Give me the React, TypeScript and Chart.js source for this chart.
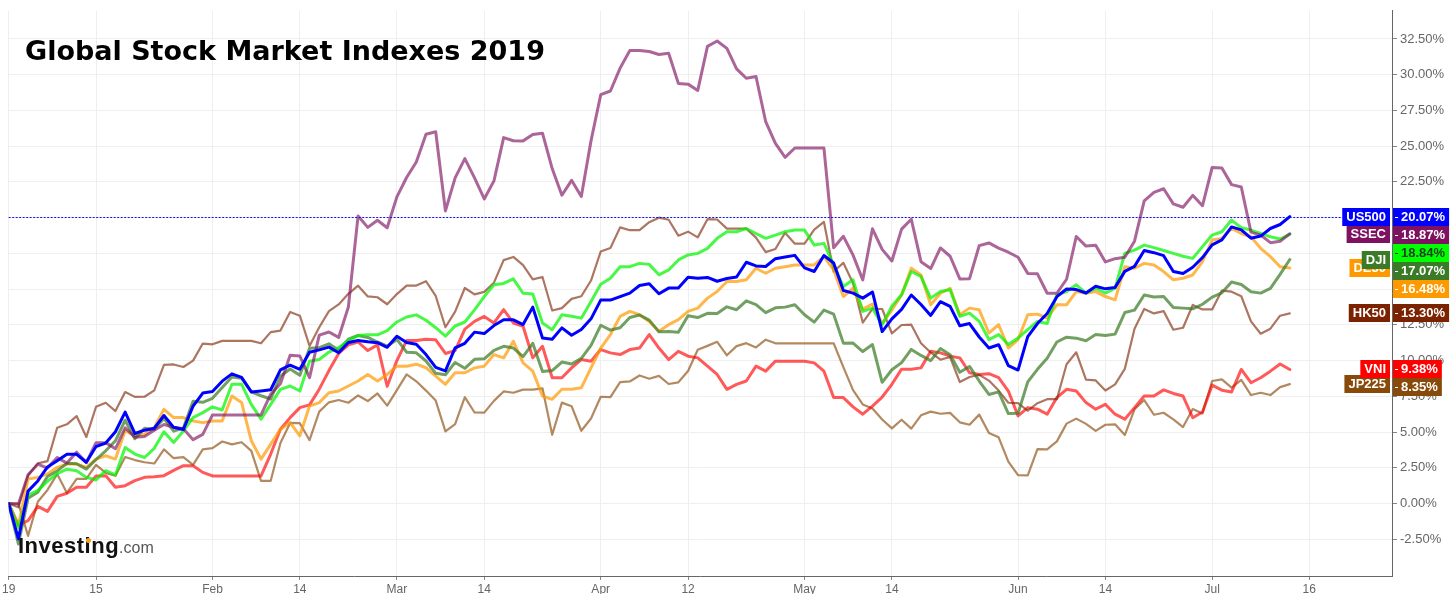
import React, { useEffect, useRef } from 'react';
import { Chart, registerables } from 'chart.js';

Chart.register(...registerables);

// x positions of the axis ticks (trading-day index) and their labels
const tickIndex = [0, 9, 21, 30, 40, 49, 61, 70, 82, 91, 104, 113, 124, 134];
const tickLabels = ['19', '15', 'Feb', '14', 'Mar', '14', 'Apr', '12', 'May', '14', 'Jun', '14', 'Jul', '16'];
const yTicks = [-2.5, 0, 2.5, 5, 7.5, 10, 12.5, 15, 17.5, 20, 22.5, 25, 27.5, 30, 32.5];

// % change since start of 2019, one value per US trading day (Jan 2 .. Jul 12)
const us500 = [
  0, -2.48, 0.87, 1.58, 2.56, 2.99, 3.45, 3.44, 2.89, 3.99,
  4.23, 5.02, 6.40, 4.90, 5.13, 5.27, 6.16, 5.33, 5.18, 6.81,
  7.73, 7.83, 8.56, 9.07, 8.83, 7.81, 7.88, 7.96, 9.35, 9.68,
  9.39, 10.58, 10.75, 10.94, 10.55, 11.26, 11.40, 11.31, 11.25, 10.93,
  11.70, 11.27, 11.14, 10.42, 9.52, 9.28, 10.89, 11.21, 11.99, 11.89,
  12.45, 12.86, 12.85, 12.52, 13.74, 11.58, 11.49, 12.29, 11.77, 12.17,
  12.92, 14.23, 14.23, 14.48, 14.72, 15.25, 15.37, 14.67, 15.07, 15.07,
  15.83, 15.76, 15.82, 15.55, 15.74, 15.85, 16.88, 16.62, 16.58, 17.13,
  17.25, 17.36, 16.48, 16.23, 17.35, 16.83, 14.90, 14.72, 14.37, 14.80,
  12.03, 12.92, 13.58, 14.59, 13.92, 13.16, 14.12, 13.79, 12.44, 12.59,
  11.65, 10.88, 11.11, 9.64, 9.34, 11.68, 12.59, 13.29, 14.47, 15.01,
  14.97, 14.73, 15.20, 15.02, 15.12, 16.24, 16.59, 17.70, 17.55, 17.34,
  16.23, 16.09, 16.53, 17.20, 18.10, 18.45, 19.35, 19.14, 18.56, 18.71,
  19.24, 19.52, 20.07,
];

const ssec = [
  0, -0.04, 2.01, 2.75, 2.48, 3.21, 2.83, 3.59, 2.86, 4.26,
  4.26, 3.83, 5.30, 4.64, 4.69, 5.13, 5.53, 5.34, 5.23, 4.47,
  4.84, 6.20, 6.20, 6.20, 6.20, 6.20, 6.20, 7.65, 8.38, 10.38,
  10.32, 8.81, 11.78, 12.00, 11.62, 13.75, 20.12, 19.32, 19.82, 19.29,
  21.45, 22.81, 23.89, 25.83, 26.01, 20.47, 22.78, 24.13, 22.78, 21.31,
  22.57, 25.60, 25.38, 25.37, 25.81, 25.91, 23.43, 21.57, 22.61, 21.48,
  25.37, 28.60, 28.86, 30.46, 31.69, 31.69, 31.62, 31.41, 31.50, 29.39,
  29.34, 28.90, 31.98, 32.36, 31.84, 30.41, 29.75, 29.87, 26.71, 25.19,
  24.22, 24.87, 24.87, 24.87, 24.87, 17.89, 18.70, 17.38, 15.64, 19.22,
  17.78, 16.97, 19.20, 19.89, 16.92, 16.44, 17.88, 17.30, 15.71, 15.73,
  18.04, 18.23, 17.87, 17.58, 17.23, 16.10, 16.07, 14.71, 14.71, 15.69,
  18.68, 18.01, 18.07, 16.90, 17.13, 17.23, 18.35, 21.17, 21.77, 22.02,
  20.96, 20.73, 21.56, 20.83, 23.51, 23.47, 22.31, 22.14, 18.99, 18.78,
  18.25, 18.35, 18.87,
];

const fchi = [
  0, -1.7, 0.6, 0.91, 1.55, 2.1, 2.4, 2.3, 1.83, 1.65,
  2.30, 2.0, 3.92, 3.46, 3.22, 3.86, 5.02, 4.27, 5.08, 6.01,
  6.36, 6.76, 6.54, 8.34, 8.34, 6.94, 5.90, 6.94, 7.99, 8.22,
  7.87, 9.96, 10.08, 10.6, 10.9, 11.4, 11.75, 11.8, 11.8, 12.1,
  12.7, 13.05, 13.2, 12.82, 12.3, 11.71, 12.42, 12.7, 13.55, 14.48,
  15.3, 15.4, 15.72, 14.71, 14.66, 12.63, 12.16, 13.21, 13.1, 12.97,
  14.14, 15.34, 15.76, 16.57, 16.57, 16.8, 16.73, 16.0, 16.34, 17.04,
  17.39, 17.5, 17.85, 18.55, 19.01, 19.01, 19.24, 18.89, 18.55, 18.78,
  19.01, 19.13, 19.13, 18.08, 18.2, 16.69, 15.18, 15.65, 13.44, 13.67,
  12.5, 13.8, 14.6, 16.23, 15.88, 14.37, 14.83, 14.95, 13.09, 13.32,
  12.74, 11.47, 11.82, 11.12, 11.58, 12.16, 12.74, 12.6, 14.6, 14.83,
  15.3, 14.72, 15.06, 14.72, 15.06, 17.5, 17.73, 18.08, 17.9, 17.7,
  17.5, 17.3, 17.15, 17.97, 18.78, 19.01, 19.83, 19.29, 19.13, 18.9,
  18.66, 18.5, 18.84,
];

const dji = [
  0, -2.83, 0.37, 0.79, 1.89, 2.28, 2.81, 2.78, 2.41, 3.08,
  3.69, 4.39, 5.83, 4.53, 5.27, 5.17, 5.96, 5.06, 5.28, 7.15,
  7.08, 7.36, 8.11, 8.85, 8.76, 7.81, 7.54, 7.31, 8.91, 9.41,
  8.97, 10.87, 10.90, 11.17, 10.73, 11.50, 11.76, 11.62, 11.30, 11.01,
  11.48, 10.59, 10.54, 9.97, 9.11, 9.01, 9.87, 9.46, 10.09, 10.12,
  10.72, 11.00, 10.88, 10.28, 11.21, 9.24, 9.30, 9.90, 9.76, 10.16,
  11.06, 12.47, 12.13, 12.30, 13.01, 13.19, 12.83, 12.01, 12.04, 11.98,
  13.13, 13.01, 13.31, 13.29, 13.76, 13.56, 14.18, 13.92, 13.35, 13.69,
  13.74, 13.91, 13.21, 12.69, 13.53, 13.25, 11.22, 11.23, 10.63, 11.12,
  8.48, 9.36, 9.86, 10.78, 10.36, 10.00, 10.84, 10.41, 9.18, 9.59,
  8.57, 7.63, 7.81, 6.29, 6.31, 8.51, 9.39, 10.17, 11.30, 11.64,
  11.57, 11.39, 11.82, 11.75, 11.85, 13.36, 13.53, 14.59, 14.45, 14.48,
  13.72, 13.67, 13.62, 13.94, 14.44, 14.74, 15.50, 15.32, 14.82, 14.72,
  15.05, 16.03, 17.07,
];

const de30 = [
  0, -1.55, 1.72, 1.83, 2.07, 2.53, 2.76, 2.76, 2.53, 3.11,
  3.34, 3.11, 5.1, 4.74, 4.85, 5.31, 6.59, 6.01, 6.01, 5.78,
  5.66, 5.78, 5.78, 7.52, 7.06, 4.39, 3.11, 4.16, 5.2, 5.66,
  4.74, 6.82, 7.06, 7.75, 7.87, 8.22, 8.57, 9.03, 8.57, 9.03,
  9.61, 9.61, 9.75, 9.5, 8.91, 8.34, 9.15, 9.15, 9.49, 9.61,
  10.42, 10.19, 11.35, 9.84, 9.26, 7.52, 7.29, 7.99, 7.99, 8.1,
  9.49, 10.88, 11.82, 13.09, 13.44, 13.21, 12.74, 12.05, 12.51, 12.86,
  13.44, 13.67, 14.37, 14.83, 15.53, 15.53, 15.65, 16.46, 16.11, 16.46,
  16.57, 16.69, 16.69, 16.69, 17.27, 16.34, 14.48, 15.06, 13.6, 13.95,
  12.6, 13.55, 14.6, 16.46, 15.99, 13.9, 14.71, 15.06, 13.21, 13.67,
  13.55, 11.93, 12.51, 10.88, 11.47, 13.21, 13.25, 12.97, 13.9, 13.9,
  14.83, 14.71, 14.83, 14.48, 14.25, 16.57, 16.46, 16.8, 16.69, 16.23,
  15.65, 15.76, 15.99, 16.92, 18.43, 18.55, 19.24, 18.89, 18.66, 17.85,
  17.27, 16.57, 16.48,
];

const hk50 = [
  0, -0.26, 1.97, 2.81, 2.97, 5.30, 5.54, 6.12, 4.65, 6.77,
  7.05, 6.47, 7.80, 7.46, 7.47, 7.92, 9.70, 9.73, 9.55, 10.0,
  11.19, 11.14, 11.38, 11.38, 11.38, 11.38, 11.21, 11.99, 12.10, 13.40,
  13.14, 11.02, 12.33, 13.46, 13.93, 14.67, 15.24, 14.49, 14.43, 13.94,
  14.65, 15.24, 15.25, 15.55, 14.52, 12.33, 13.42, 15.08, 14.63, 14.81,
  15.45, 17.03, 17.25, 16.68, 15.68, 15.85, 13.50, 13.67, 14.32, 14.50,
  15.60, 17.63, 17.88, 19.32, 19.12, 19.12, 19.68, 20.00, 19.85, 18.74,
  19.02, 18.62, 19.89, 19.87, 19.23, 19.23, 19.23, 18.60, 17.59, 17.81,
  18.95, 18.18, 18.18, 19.16, 19.70, 16.23, 16.84, 15.41, 12.66, 13.61,
  13.61, 11.90, 12.49, 12.51, 11.21, 10.57, 10.06, 10.25, 8.50, 8.85,
  9.00, 8.6, 7.9, 7.05, 7.02, 6.49, 7.02, 7.30, 7.30, 9.74,
  10.58, 8.67, 8.61, 7.91, 8.34, 9.42, 12.22, 13.61, 13.30, 13.46,
  12.16, 12.30, 13.89, 13.58, 13.58, 14.90, 14.82, 14.50, 12.74, 11.88,
  12.23, 13.14, 13.30,
];

const vni = [
  0, -1.5, -1.2, -0.2, -0.55, 0.5, 0.72, 1.14, 1.14, 1.92,
  1.95, 1.14, 1.25, 1.6, 1.83, 1.88, 1.95, 2.32, 2.65, 2.65,
  2.18, 1.93, 1.93, 1.93, 1.93, 1.93, 1.93, 3.46, 5.2, 6.01,
  6.71, 6.9, 8.0, 9.3, 10.5, 11.1, 11.3, 10.7, 11.1, 8.2,
  10.0, 11.4, 11.4, 11.5, 11.45, 10.5, 10.7, 12.2, 12.74, 13.09,
  12.63, 13.56, 12.63, 12.4, 10.19, 11.0, 8.8, 8.8, 9.49, 10.07,
  9.96, 10.77, 10.54, 10.42, 10.77, 10.88, 11.82, 10.88, 10.07, 10.65,
  10.31, 10.19, 9.61, 9.03, 7.99, 8.34, 8.57, 9.61, 9.26, 9.96,
  9.96, 9.96, 9.96, 9.84, 9.26, 7.41, 7.41, 6.76, 6.25, 6.82,
  7.45, 8.34, 9.4, 9.4, 9.49, 10.65, 10.54, 10.31, 10.19, 9.15,
  9.03, 9.08, 8.8, 7.87, 6.13, 6.71, 6.6, 6.25, 7.41, 7.99,
  7.87, 7.06, 6.6, 6.94, 6.25, 5.9, 6.71, 7.52, 7.52, 7.95,
  7.7, 7.52, 6.0, 6.4, 8.28, 7.93, 7.8, 9.38, 8.45, 8.8,
  9.26, 9.76, 9.38,
];

const jp225 = [
  0, 0, -2.26, 0.12, 0.95, 2.06, 0.74, 1.72, 1.72, 2.70,
  2.14, 1.94, 3.25, 3.04, 2.89, 2.80, 3.79, 3.17, 3.25, 2.71,
  3.79, 3.87, 4.34, 4.14, 4.29, 3.68, 1.59, 1.59, 4.24, 5.64,
  5.62, 4.43, 6.43, 7.08, 7.24, 7.05, 7.56, 7.17, 7.70, 6.85,
  7.93, 9.03, 8.55, 7.90, 7.20, 5.05, 5.55, 7.44, 6.37, 6.36,
  7.18, 7.84, 7.75, 7.97, 7.97, 8.06, 4.81, 7.06, 6.81, 5.09,
  5.95, 7.47, 7.45, 8.49, 8.54, 8.96, 8.73, 8.93, 8.36, 8.48,
  9.27, 10.76, 11.03, 11.31, 10.37, 11.01, 11.22, 10.92, 11.46, 11.21,
  11.21, 11.21, 11.21, 11.21, 11.21, 11.21, 9.54, 7.93, 6.93, 6.65,
  5.88, 5.26, 5.86, 5.24, 6.17, 6.43, 6.28, 6.34, 5.68, 5.51,
  6.22, 4.94, 4.63, 2.93, 1.98, 1.97, 3.80, 3.79, 4.35, 5.59,
  5.94, 5.57, 5.08, 5.51, 5.54, 4.79, 6.59, 7.24, 6.21, 6.35,
  5.89, 5.35, 6.61, 6.30, 8.57, 8.69, 8.11, 8.65, 7.59, 7.75,
  7.59, 8.14, 8.35,
];

type Series = { name: string; values: number[]; line: string; box: string; text: string; width: number };

const series: Series[] = [
  { name: 'US500', values: us500, line: '#0000ff', box: '#0000ff', text: '#ffffff', width: 3 },
  { name: 'SSEC', values: ssec, line: 'rgba(126,18,97,0.65)', box: '#7e1261', text: '#ffffff', width: 3 },
  { name: 'FCHI', values: fchi, line: 'rgba(0,245,0,0.72)', box: '#00ff00', text: '#1f3d1f', width: 3 },
  { name: 'DJI', values: dji, line: 'rgba(59,123,39,0.72)', box: '#3b7b27', text: '#ffffff', width: 3 },
  { name: 'DE30', values: de30, line: 'rgba(255,153,0,0.7)', box: '#ff9900', text: '#ffffff', width: 3 },
  { name: 'HK50', values: hk50, line: 'rgba(123,34,0,0.62)', box: '#7b2200', text: '#ffffff', width: 2.2 },
  { name: 'VNI', values: vni, line: 'rgba(255,0,0,0.65)', box: '#ff0000', text: '#ffffff', width: 3 },
  { name: 'JP225', values: jp225, line: 'rgba(136,74,10,0.65)', box: '#884a0a', text: '#ffffff', width: 2.2 },
];

const nameDrawOrder = [7, 6, 5, 4, 3, 2, 1, 0];

const endLabels = {
  id: 'endLabels',
  afterDatasetsDraw(chart: any) {
    const { ctx, chartArea: a, scales } = chart;
    const ys = scales.y;
    const H = 18;
    ctx.save();
    ctx.font = 'bold 13px "Liberation Sans", Arial, sans-serif';
    ctx.textBaseline = 'middle';
    const items = series.map((s) => {
      const last = s.values[s.values.length - 1];
      return { s, last, y: ys.getPixelForValue(last) };
    });

    // dotted guide for the leading series
    const us = items[0];
    const usW = ctx.measureText(us.s.name).width + 8;
    ctx.strokeStyle = '#1010ff';
    ctx.lineWidth = 1;
    ctx.setLineDash([2, 1.5]);
    ctx.beginPath();
    const yy = Math.round(us.y) + 0.5;
    ctx.moveTo(a.left, yy);
    ctx.lineTo(a.right - 2 - usW, yy);
    ctx.stroke();
    ctx.setLineDash([]);

    // name boxes, left of the axis
    for (const k of nameDrawOrder) {
      const it = items[k];
      const w = ctx.measureText(it.s.name).width + 8;
      const x = a.right - 2 - w;
      const top = Math.round(it.y - H / 2);
      ctx.fillStyle = it.s.box;
      ctx.fillRect(x, top, w, H);
      ctx.fillStyle = it.s.text;
      ctx.textAlign = 'center';
      ctx.fillText(it.s.name, x + w / 2, top + H / 2 + 0.5);
    }

    // value boxes, right of the axis, stacked
    const sorted = [...items].sort((p, q) => p.y - q.y);
    let prev = -Infinity;
    for (const it of sorted) {
      let top = Math.round(it.y - H / 2);
      if (top < prev) top = prev;
      prev = top + H;
      const label = it.last.toFixed(2) + '%';
      const tw = ctx.measureText(label).width;
      const w = tw + 13;
      ctx.fillStyle = it.s.box;
      ctx.fillRect(a.right, top, w, H);
      ctx.strokeStyle = it.s.text;
      ctx.lineWidth = 1;
      ctx.beginPath();
      ctx.moveTo(a.right + 3, top + H / 2 + 0.5);
      ctx.lineTo(a.right + 6, top + H / 2 + 0.5);
      ctx.stroke();
      ctx.fillStyle = it.s.text;
      ctx.textAlign = 'left';
      ctx.fillText(label, a.right + 9, top + H / 2 + 0.5);
    }

    // axis line on top
    ctx.strokeStyle = '#666';
    ctx.lineWidth = 1;
    ctx.beginPath();
    ctx.moveTo(a.right + 0.5, a.top);
    ctx.lineTo(a.right + 0.5, a.bottom);
    ctx.stroke();
    ctx.restore();
  },
};

export default function App() {
  const ref = useRef<HTMLCanvasElement>(null);

  useEffect(() => {
    const canvas = ref.current;
    if (!canvas) return;
    Chart.defaults.font.family = '"Liberation Sans", Arial, sans-serif';
    const chart = new Chart(canvas, {
      type: 'line',
      data: {
        datasets: series.map((s) => ({
          label: s.name,
          data: s.values.map((v, i) => ({ x: i, y: v })),
          borderColor: s.line,
          backgroundColor: s.line,
          borderWidth: s.width,
          pointRadius: 0,
          pointHoverRadius: 0,
          tension: 0,
          fill: false,
          spanGaps: true,
          borderJoinStyle: 'round',
          borderCapStyle: 'round',
        })),
      },
      options: {
        responsive: false,
        animation: false,
        devicePixelRatio: 1,
        layout: { padding: { top: 8, left: 8, right: 0, bottom: 0 } },
        plugins: {
          legend: { display: false },
          tooltip: { enabled: false },
          title: { display: false },
        },
        scales: {
          x: {
            type: 'linear',
            min: 0,
            max: 142.53,
            afterBuildTicks: (s: any) => {
              s.ticks = tickIndex.map((v) => ({ value: v }));
            },
            afterFit: (s: any) => {
              s.height = 18;
            },
            ticks: {
              autoSkip: false,
              maxRotation: 0,
              minRotation: 0,
              padding: 2,
              color: '#666',
              font: { size: 12 },
              callback: (v: any) => {
                const k = tickIndex.indexOf(Number(v));
                return k >= 0 ? tickLabels[k] : '';
              },
            },
            grid: { color: '#efefef', tickColor: '#888', tickLength: 4 },
            border: { color: '#666' },
          },
          y: {
            type: 'linear',
            position: 'right',
            min: -5.07,
            max: 34.47,
            afterBuildTicks: (s: any) => {
              s.ticks = yTicks.map((v) => ({ value: v }));
            },
            afterFit: (s: any) => {
              s.width = 63;
            },
            ticks: {
              padding: 3,
              color: '#666',
              font: { size: 13 },
              callback: (v: any) => Number(v).toFixed(2) + '%',
            },
            grid: { color: '#efefef', tickColor: '#888', tickLength: 5 },
            border: { color: '#666' },
          },
        },
      },
      plugins: [endLabels],
    } as any);
    return () => chart.destroy();
  }, []);

  return (
    <div style={{ position: 'absolute', left: 0, top: 0, width: 1455, height: 594, background: '#fff', overflow: 'hidden' }}>
      <canvas ref={ref} width={1455} height={594} style={{ display: 'block', width: 1455, height: 594 }} />
      <div
        style={{
          position: 'absolute',
          left: 25,
          top: 37,
          font: 'bold 27px "DejaVu Sans", Verdana, sans-serif',
          lineHeight: '27px',
          color: '#000',
          whiteSpace: 'nowrap',
        }}
      >
        Global Stock Market Indexes 2019
      </div>
      <div
        style={{
          position: 'absolute',
          left: 18,
          top: 535,
          font: 'bold 22px "Liberation Sans", Arial, sans-serif',
          lineHeight: '22px',
          whiteSpace: 'nowrap',
        }}
      >
        <span style={{ color: '#111', letterSpacing: '0.5px' }}>Investing</span>
        <span style={{ font: '16px "Liberation Sans", Arial, sans-serif', color: '#555' }}>.com</span>
      </div>
      <div
        style={{
          position: 'absolute',
          left: 85.5,
          top: 537.5,
          width: 5,
          height: 5,
          borderRadius: '50%',
          background: '#f7a21b',
        }}
      />
    </div>
  );
}
